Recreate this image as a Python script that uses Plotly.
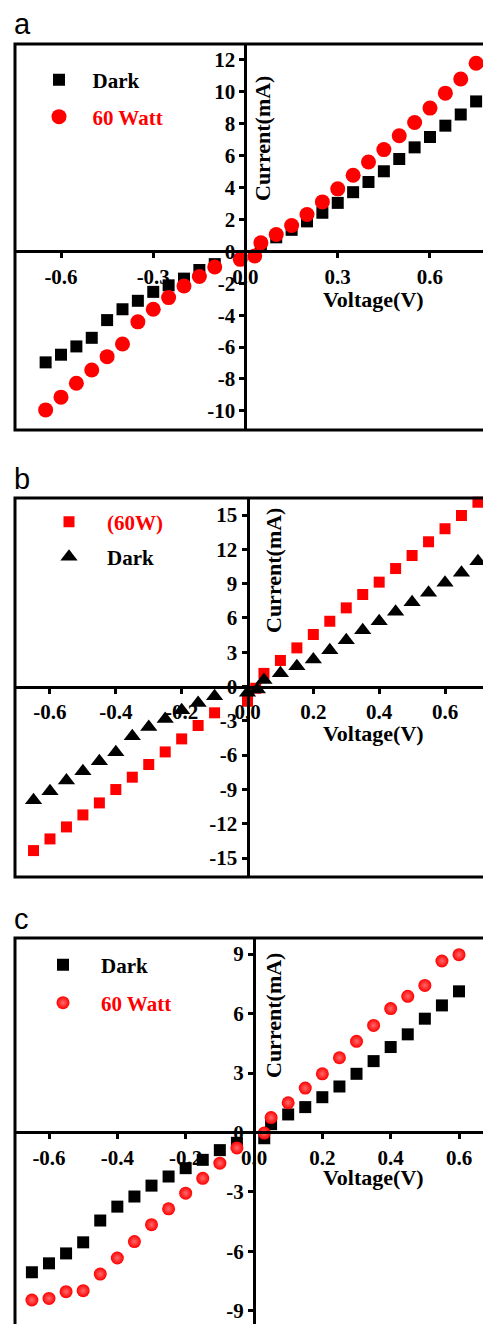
import plotly.graph_objects as go

# ---------------- data ----------------
# panel a
a_dark_v = [-0.65, -0.6, -0.55, -0.5, -0.45, -0.4, -0.35, -0.3, -0.25, -0.2, -0.15, -0.1,
            0.05, 0.1, 0.15, 0.2, 0.25, 0.3, 0.35, 0.4, 0.45, 0.5, 0.55, 0.6, 0.65, 0.7, 0.75]
a_dark_i = [-6.96, -6.48, -5.96, -5.42, -4.31, -3.63, -3.10, -2.54, -2.13, -1.71, -1.17, -0.80,
            0.45, 0.88, 1.35, 1.88, 2.42, 3.04, 3.71, 4.35, 5.02, 5.79, 6.52, 7.17, 7.88, 8.58, 9.40]
a_w60_v = [-0.65, -0.6, -0.55, -0.5, -0.45, -0.4, -0.35, -0.3, -0.25, -0.2, -0.15, -0.1,
           -0.017, 0.03, 0.05, 0.1, 0.15, 0.2, 0.25, 0.3, 0.35, 0.4, 0.45, 0.5, 0.55, 0.6, 0.65, 0.7, 0.75]
a_w60_i = [-9.94, -9.14, -8.27, -7.44, -6.60, -5.81, -4.42, -3.63, -2.90, -2.17, -1.58, -0.98,
           -0.50, -0.29, 0.54, 1.06, 1.62, 2.31, 3.10, 3.92, 4.77, 5.60, 6.38, 7.25, 8.08, 8.98, 9.92, 10.81, 11.79]

# panel b
b_w60_v = [-0.65, -0.6, -0.55, -0.5, -0.45, -0.4, -0.35, -0.3, -0.25, -0.2, -0.15, -0.1,
           0.0, 0.025, 0.05, 0.1, 0.15, 0.2, 0.25, 0.3, 0.35, 0.4, 0.45, 0.5, 0.55, 0.6, 0.65, 0.7]
b_w60_i = [-14.35, -13.33, -12.28, -11.23, -10.18, -9.01, -7.93, -6.82, -5.72, -4.58, -3.41, -2.30,
           -1.29, -0.15, 1.15, 2.28, 3.38, 4.55, 5.71, 6.88, 8.05, 9.13, 10.32, 11.46, 12.66, 13.80, 14.96, 16.12]
b_dark_v = [-0.65, -0.6, -0.55, -0.5, -0.45, -0.4, -0.35, -0.3, -0.25, -0.2, -0.15, -0.1,
            0.0, 0.03, 0.05, 0.1, 0.15, 0.2, 0.25, 0.3, 0.35, 0.4, 0.45, 0.5, 0.55, 0.6, 0.65, 0.7]
b_dark_i = [-9.95, -9.16, -8.22, -7.41, -6.53, -5.75, -4.35, -3.53, -2.83, -2.07, -1.43, -0.85,
            -0.55, -0.26, 0.58, 1.17, 1.78, 2.36, 3.18, 4.05, 4.93, 5.71, 6.53, 7.38, 8.20, 9.07, 9.95, 10.96]

# panel c
c_dark_v = [-0.65, -0.6, -0.55, -0.5, -0.45, -0.4, -0.35, -0.3, -0.25, -0.2, -0.15, -0.1, -0.05,
            0.03, 0.05, 0.1, 0.15, 0.2, 0.25, 0.3, 0.35, 0.4, 0.45, 0.5, 0.55, 0.6]
c_dark_i = [-7.05, -6.60, -6.10, -5.54, -4.44, -3.74, -3.23, -2.68, -2.22, -1.80, -1.38, -0.89, -0.52,
            -0.29, 0.42, 0.91, 1.28, 1.78, 2.32, 2.96, 3.60, 4.31, 4.95, 5.74, 6.41, 7.12]
c_w60_v = [-0.65, -0.6, -0.55, -0.5, -0.45, -0.4, -0.35, -0.3, -0.25, -0.2, -0.15, -0.1, -0.05,
           0.03, 0.05, 0.1, 0.15, 0.2, 0.25, 0.3, 0.35, 0.4, 0.45, 0.5, 0.55, 0.6]
c_w60_i = [-8.45, -8.37, -8.03, -7.98, -7.14, -6.33, -5.50, -4.65, -3.85, -3.06, -2.31, -1.55, -0.78,
           -0.03, 0.75, 1.50, 2.24, 2.96, 3.77, 4.60, 5.40, 6.25, 6.87, 7.42, 8.65, 8.97]

# ticks
a_xtick_vals = [-0.6, -0.3, 0.0, 0.3, 0.6]
a_xtick_text = ["-0.6", "-0.3", "0.0", "0.3", "0.6"]
a_ytick_vals = [-10, -8, -6, -4, -2, 0, 2, 4, 6, 8, 10, 12]
a_ytick_text = ["-10", "-8", "-6", "-4", "-2", "0", "2", "4", "6", "8", "10", "12"]
b_xtick_vals = [-0.6, -0.4, -0.2, 0.0, 0.2, 0.4, 0.6]
b_xtick_text = ["-0.6", "-0.4", "-0.2", "0.0", "0.2", "0.4", "0.6"]
b_ytick_vals = [-15, -12, -9, -6, -3, 0, 3, 6, 9, 12, 15]
b_ytick_text = ["-15", "-12", "-9", "-6", "-3", "0", "3", "6", "9", "12", "15"]
c_xtick_vals = [-0.6, -0.4, -0.2, 0.0, 0.2, 0.4, 0.6]
c_xtick_text = ["-0.6", "-0.4", "-0.2", "0.0", "0.2", "0.4", "0.6"]
c_ytick_vals = [-9, -6, -3, 0, 3, 6, 9]
c_ytick_text = ["-9", "-6", "-3", "0", "3", "6", "9"]

x_title = "Voltage(V)"
y_title = "Current(mA)"
panel_letters = ["a", "b", "c"]

# ---------------- layout helpers ----------------
W, H, L = 483, 1324, 15
SERIF = "Liberation Serif, Times New Roman, serif"
SANS = "Liberation Sans, Arial, sans-serif"
RED = "#ff0000"


def fx(p):
    return (p - L) / (W - L)


def fy(p):
    return 1 - p / H


panels = [
    dict(xr=[-0.7496, 0.7724], yr=[-11.2, 13.0], top=44, bot=430,
         xt=(a_xtick_vals, a_xtick_text), yt=(a_ytick_vals, a_ytick_text),
         ytitle=(263, 139), xtitle=(373, 299), letter=(12, 24)),
    dict(xr=[-0.7063, 0.7154], yr=[-16.66, 16.49], top=498, bot=877,
         xt=(b_xtick_vals, b_xtick_text), yt=(b_ytick_vals, b_ytick_text),
         ytitle=(273, 571), xtitle=(373, 733), letter=(12, 479)),
    dict(xr=[-0.6995, 0.6702], yr=[-9.66, 9.81], top=938, bot=1324,
         xt=(c_xtick_vals, c_xtick_text), yt=(c_ytick_vals, c_ytick_text),
         ytitle=(273, 1016), xtitle=(373, 1177), letter=(12, 919)),
]

fig = go.Figure()

# traces: (panel index, x, y, name, symbol, color, size, text color, legend, legend pos, itemwidth, gradient)
series = [
    (0, a_dark_v, a_dark_i, "Dark", "square", "black", 12, "black", "legend", (25.5, 80), 57, None),
    (0, a_w60_v, a_w60_i, "60 Watt", "circle", RED, 15, RED, "legend2", (25.5, 117), 57, None),
    (1, b_w60_v, b_w60_i, "(60W)", "square", RED, 11, RED, "legend3", (31, 522), 66, None),
    (1, b_dark_v, b_dark_i, "Dark", "triangle-up", "black", 15, "black", "legend4", (31, 557), 66, None),
    (2, c_dark_v, c_dark_i, "Dark", "square", "black", 12, "black", "legend5", (25, 965), 66, None),
    (2, c_w60_v, c_w60_i, "60 Watt", "circle", RED, 13, RED, "legend6", (25, 1003), 66, "#ff6a6a"),
]

legends = {}
for (pi, xs, ys, name, sym, col, size, tcol, leg, lpos, iw, grad) in series:
    sfx = "" if pi == 0 else str(pi + 1)
    marker = dict(symbol=sym, color=col, size=size, line=dict(width=0))
    if grad:
        marker["gradient"] = dict(type="radial", color=grad)
    fig.add_trace(go.Scatter(
        x=xs, y=ys, mode="markers", name=name, marker=marker,
        xaxis="x" + sfx, yaxis="y" + sfx, legend=leg, cliponaxis=False,
        showlegend=True))
    legends[leg] = dict(
        x=fx(lpos[0]), y=fy(lpos[1]), xanchor="left", yanchor="middle",
        bgcolor="rgba(0,0,0,0)", borderwidth=0, itemwidth=iw, itemsizing="trace",
        font=dict(family=SERIF, size=21, color=tcol, weight="bold"))

layout = dict(
    width=W, height=H, autosize=False,
    margin=dict(l=L, r=0, t=0, b=0, pad=0),
    paper_bgcolor="white", plot_bgcolor="white",
    template="none",
    shapes=[], annotations=[],
)
layout.update(legends)

for i, p in enumerate(panels):
    sfx = "" if i == 0 else str(i + 1)
    y0d, y1d = fy(p["bot"]), fy(p["top"])
    xr, yr = p["xr"], p["yr"]
    xpos = (0 - xr[0]) / (xr[1] - xr[0])
    ypos = y0d + (0 - yr[0]) / (yr[1] - yr[0]) * (y1d - y0d)
    axis_common = dict(
        showgrid=False, zeroline=False, showline=True, linewidth=3, linecolor="black",
        ticks="outside", ticklen=5, tickwidth=2.5, tickcolor="black",
        tickfont=dict(family=SERIF, size=21, color="black", weight="bold"),
        automargin=False, fixedrange=True, layer="above traces",
    )
    layout["xaxis" + sfx] = dict(
        domain=[0, 1], range=xr, anchor="free", position=ypos, side="bottom",
        tickmode="array", tickvals=p["xt"][0], ticktext=p["xt"][1], **axis_common)
    layout["yaxis" + sfx] = dict(
        domain=[y0d, y1d], range=yr, anchor="free", position=xpos, side="left",
        tickmode="array", tickvals=p["yt"][0], ticktext=p["yt"][1], **axis_common)
    # frame
    layout["shapes"].append(dict(
        type="rect", xref="paper", yref="paper", x0=0, x1=1.2,
        y0=(y0d if p["bot"] < H else -0.1), y1=y1d,
        line=dict(color="black", width=3), fillcolor="rgba(0,0,0,0)", layer="above"))
    # axis titles
    layout["annotations"].append(dict(
        text=y_title, textangle=-90, xref="paper", yref="paper",
        x=fx(p["ytitle"][0]), y=fy(p["ytitle"][1]), xanchor="center", yanchor="middle",
        showarrow=False, font=dict(family=SERIF, size=22, color="black", weight="bold")))
    layout["annotations"].append(dict(
        text=x_title, xref="paper", yref="paper",
        x=fx(p["xtitle"][0]), y=fy(p["xtitle"][1]), xanchor="center", yanchor="middle",
        showarrow=False, font=dict(family=SERIF, size=22, color="black", weight="bold")))
    # panel letter
    layout["annotations"].append(dict(
        text=panel_letters[i], xref="paper", yref="paper",
        x=fx(p["letter"][0]), y=fy(p["letter"][1]), xanchor="left", yanchor="middle",
        showarrow=False, font=dict(family=SANS, size=29, color="black")))

fig.update_layout(**layout)
fig.write_html("out.html")
